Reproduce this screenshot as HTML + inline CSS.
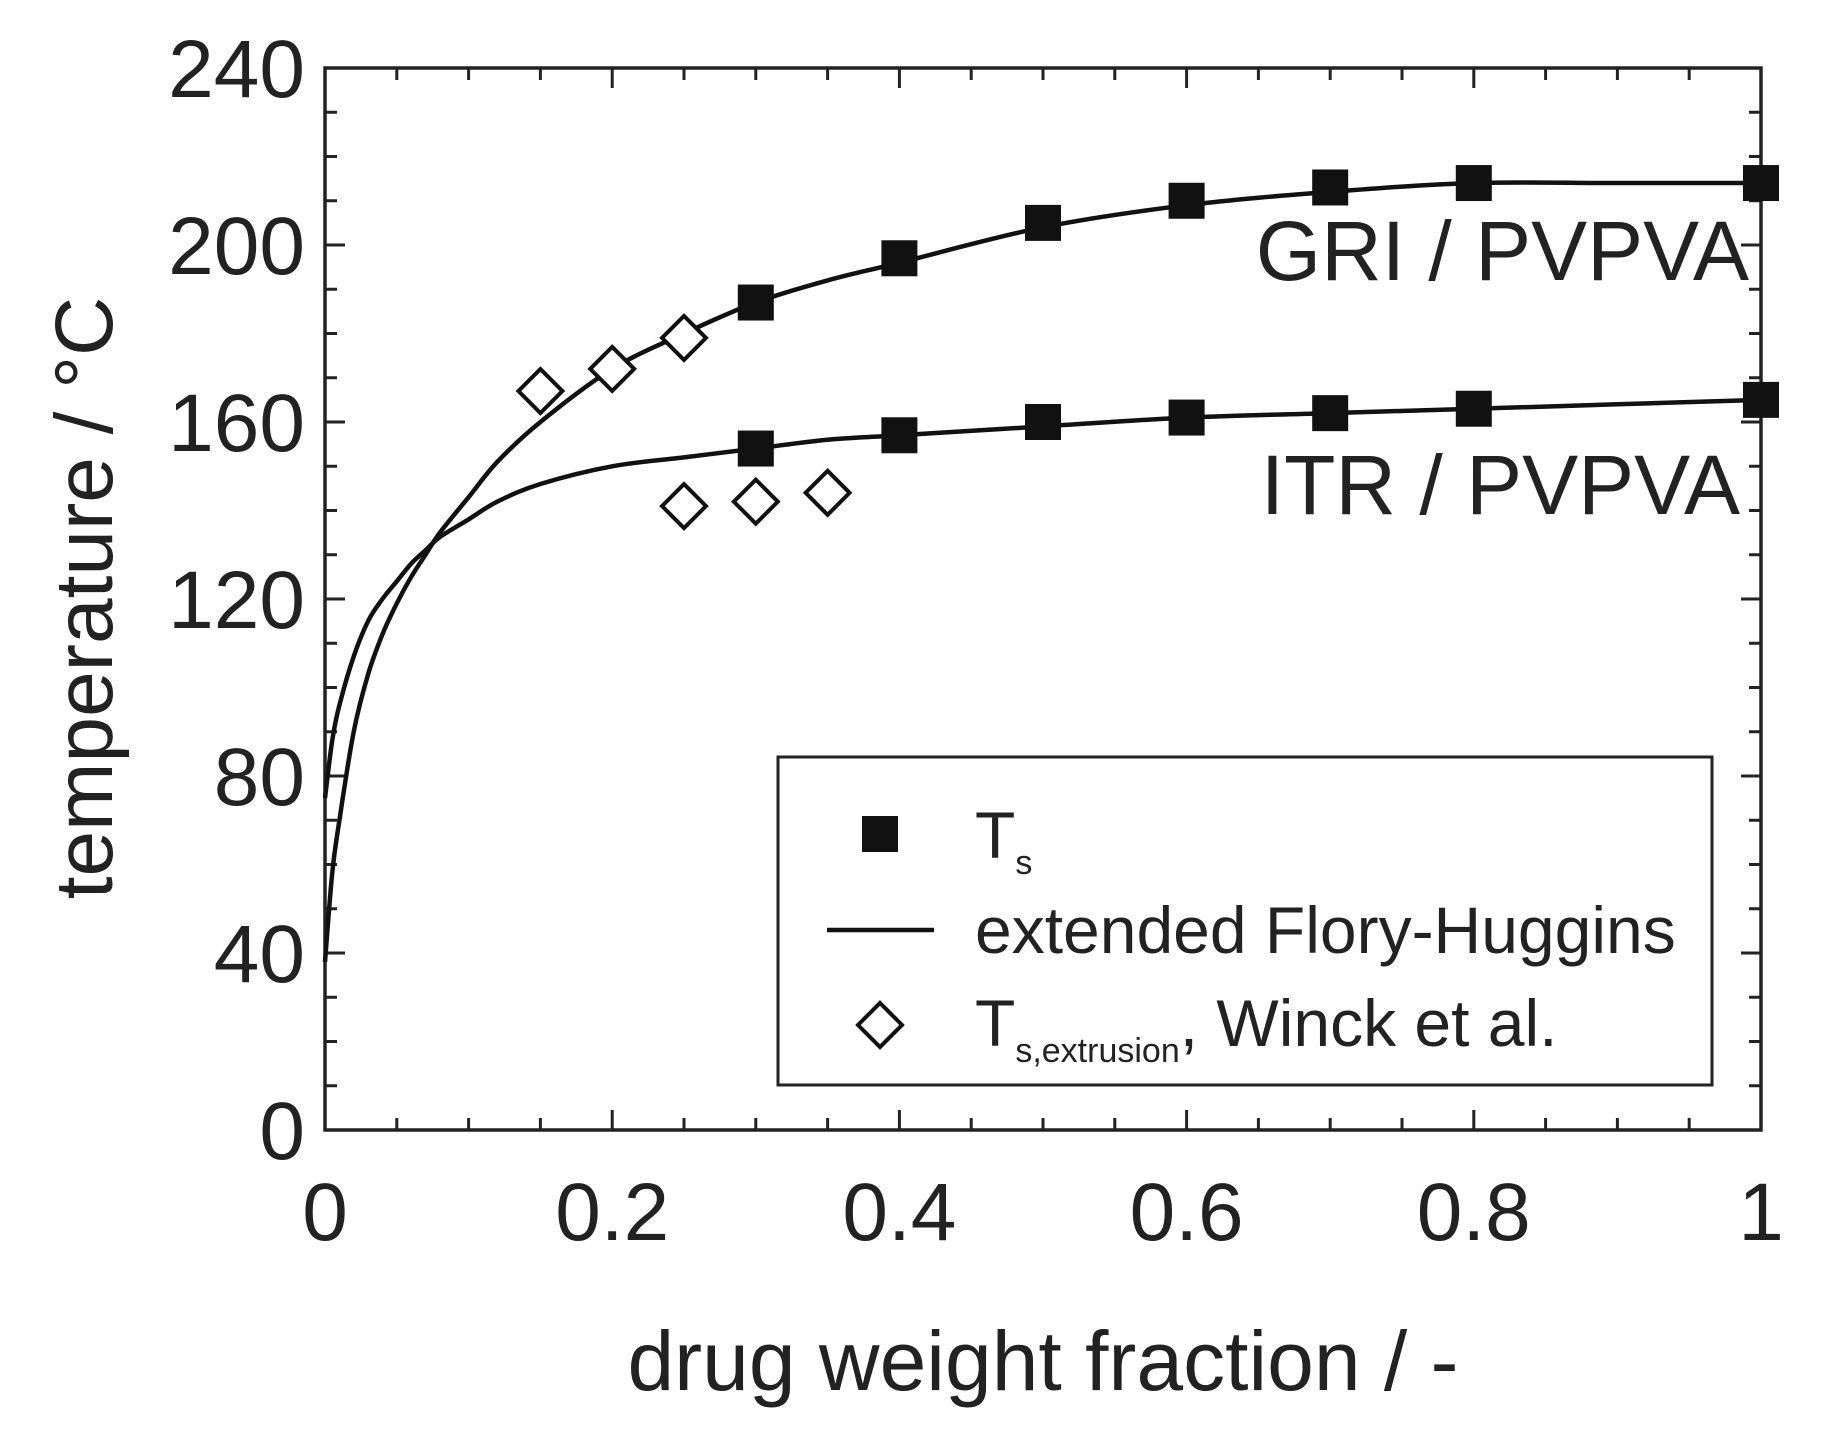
<!DOCTYPE html>
<html><head><meta charset="utf-8"><style>
html,body{margin:0;padding:0;background:#fff;}
svg{display:block;font-family:"Liberation Sans",sans-serif;}
</style></head><body>
<svg id="chart" width="1834" height="1449" viewBox="0 0 1834 1449"></svg>
<script>
const xTicks=[0,0.2,0.4,0.6,0.8,1];
const xTickLabels=["0","0.2","0.4","0.6","0.8","1"];
const yTicks=[0,40,80,120,160,200,240];
const yTickLabels=["0","40","80","120","160","200","240"];
const griX=[0.3,0.4,0.5,0.6,0.7,0.8,1];
const griTs=[187,197,205,210,213,214,214];
const itrX=[0.3,0.4,0.5,0.6,0.7,0.8,1];
const itrTs=[154,157,160,161,162,163,165];
const griExtX=[0.15,0.2,0.25];
const griExt=[167,172,179];
const itrExtX=[0.25,0.3,0.35];
const itrExt=[141,142,144];
const curveX=[0,0.005,0.01,0.02,0.03,0.04,0.05,0.06,0.07,0.08,0.1,0.12,0.15,0.2,0.25,0.3,0.35,0.4,0.5,0.6,0.7,0.8,0.9,1];
const griCurve=[38,58,70,90,103,112,119,125,130,135,143,151,160,172,180,187,192,196,204,209,212,214,214,214];
const itrCurve=[75,88,96,107,115,120,124,128,131,134,138,142,146,150,152,154,156,157,159,161,162,163,164,165];

const NS="http://www.w3.org/2000/svg";
const svg=document.getElementById('chart');
const L=325,R=1761,T=68,B=1130;
const xs=v=>L+v*(R-L);
const ys=v=>B-v/240*(B-T);
function mk(tag,attrs,parent){const e=document.createElementNS(NS,tag);for(const k in attrs)e.setAttribute(k,attrs[k]);(parent||svg).appendChild(e);return e;}

const tg=mk('g',{stroke:'#222','stroke-width':3});


for(let i=0;i<=20;i++){const v=i*0.05;const len=(i%4===0)?20:12;
  mk('line',{x1:xs(v),x2:xs(v),y1:B,y2:B-len},tg);mk('line',{x1:xs(v),x2:xs(v),y1:T,y2:T+len},tg);}
for(let i=0;i<=24;i++){const v=i*10;const len=(i%4===0)?20:12;
  mk('line',{x1:L,x2:L+len,y1:ys(v),y2:ys(v)},tg);mk('line',{x1:R,x2:R-len,y1:ys(v),y2:ys(v)},tg);}
const frame=mk('rect',{x:L,y:T,width:R-L,height:B-T,fill:'none',stroke:'#222','stroke-width':3.5});



xTicks.forEach((v,i)=>{const t=mk('text',{x:xs(v),y:1240,'font-size':82,'text-anchor':'middle',fill:'#222'});t.textContent=xTickLabels[i];
  
  });
yTicks.forEach((v,i)=>{const t=mk('text',{x:305,y:ys(v)+29,'font-size':82,'text-anchor':'end',fill:'#222'});t.textContent=yTickLabels[i];
  
  });

const xt=mk('text',{x:1043,y:1390,'font-size':84,'text-anchor':'middle',fill:'#222'});xt.textContent='drug weight fraction / -';


const yt=mk('text',{x:0,y:0,'font-size':82,'text-anchor':'middle',fill:'#222',transform:'translate(112,598) rotate(-90)'});yt.textContent='temperature / °C';



function smoothPath(pts){let d='M'+pts[0][0].toFixed(1)+','+pts[0][1].toFixed(1);
  for(let i=0;i<pts.length-1;i++){const p0=pts[Math.max(i-1,0)],p1=pts[i],p2=pts[i+1],p3=pts[Math.min(i+2,pts.length-1)];
    const c1x=p1[0]+(p2[0]-p0[0])/6,c1y=p1[1]+(p2[1]-p0[1])/6,c2x=p2[0]-(p3[0]-p1[0])/6,c2y=p2[1]-(p3[1]-p1[1])/6;
    d+=` C${c1x.toFixed(1)},${c1y.toFixed(1)} ${c2x.toFixed(1)},${c2y.toFixed(1)} ${p2[0].toFixed(1)},${p2[1].toFixed(1)}`;}
  return d;}
function curve(xa,ya,name){const pts=xa.map((x,i)=>[xs(x),ys(ya[i])]);
  const p=mk('path',{d:smoothPath(pts),fill:'none',stroke:'#111','stroke-width':4.5,'stroke-linejoin':'round'});
  
  }
curve(curveX,griCurve,'gri-flory-huggins-curve');
curve(curveX,itrCurve,'itr-flory-huggins-curve');

function squares(xa,ya,name){xa.forEach((x,i)=>{const r=mk('rect',{x:xs(x)-18,y:ys(ya[i])-18,width:36,height:36,fill:'#111'});
  
  });}
squares(griX,griTs,'gri-ts-point');
squares(itrX,itrTs,'itr-ts-point');
function diamonds(xa,ya,name){xa.forEach((x,i)=>{const cx=xs(x),cy=ys(ya[i]),s=22;
  const p=mk('polygon',{points:`${cx},${cy-s} ${cx+s},${cy} ${cx},${cy+s} ${cx-s},${cy}`,fill:'#fff',stroke:'#111','stroke-width':4});
  
  });}
diamonds(griExtX,griExt,'gri-extrusion-point');
diamonds(itrExtX,itrExt,'itr-extrusion-point');

const l1=mk('text',{x:1749,y:280,'font-size':84,'text-anchor':'end',fill:'#222'});l1.textContent='GRI / PVPVA';


const l2=mk('text',{x:1740,y:514,'font-size':84,'text-anchor':'end',fill:'#222'});l2.textContent='ITR / PVPVA';



const lg=mk('g',{});


mk('rect',{x:778,y:757,width:934,height:328,fill:'#fff',stroke:'#222','stroke-width':3},lg);
mk('rect',{x:862,y:816,width:36,height:36,fill:'#111'},lg);
mk('line',{x1:827,x2:934,y1:930,y2:930,stroke:'#111','stroke-width':4.5},lg);
mk('polygon',{points:'880,1003 902,1025 880,1047 858,1025',fill:'#fff',stroke:'#111','stroke-width':4},lg);
const t1=mk('text',{x:975,y:858,'font-size':66,fill:'#222'},lg);t1.innerHTML='T<tspan font-size="34" dy="16">s</tspan>';
const t2=mk('text',{x:975,y:953,'font-size':66,fill:'#222'},lg);t2.textContent='extended Flory-Huggins';
const t3=mk('text',{x:975,y:1046,'font-size':66,fill:'#222'},lg);t3.innerHTML='T<tspan font-size="34" dy="16">s,extrusion</tspan><tspan dy="-16">, Winck et al.</tspan>';
</script>
</body></html>
